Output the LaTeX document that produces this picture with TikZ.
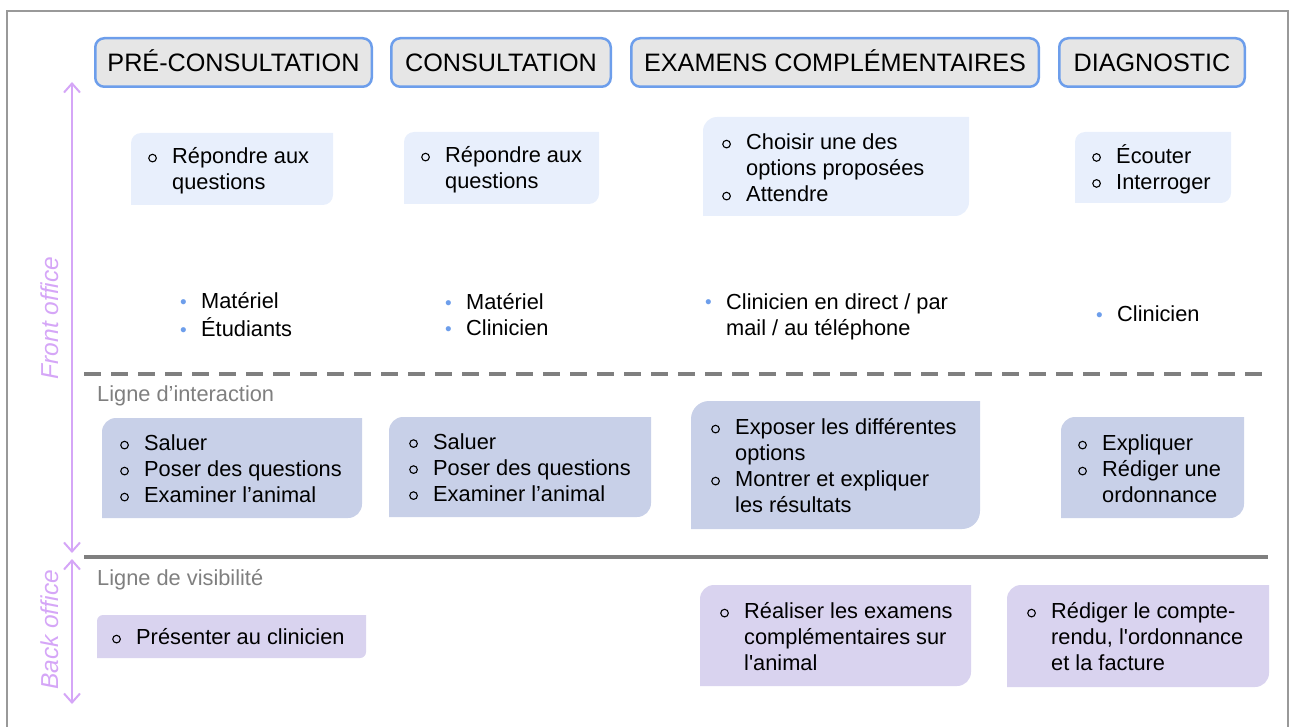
\documentclass[tikz,border=0pt]{standalone}
\usepackage{fontspec}
\setmainfont{Liberation Sans}[Ligatures=TeXOff]
\usetikzlibrary{arrows.meta}

\definecolor{headblue}{HTML}{6D9EEB}
\definecolor{headgray}{HTML}{E6E6E6}
\definecolor{askblue}{HTML}{E8EFFC}
\definecolor{actblue}{HTML}{C8D0E8}
\definecolor{backlav}{HTML}{D9D3EF}
\definecolor{officepurple}{HTML}{D5A6F7}
\definecolor{linegray}{HTML}{7F7F7F}
\definecolor{dotblue}{HTML}{6D9EEB}
\definecolor{framegray}{HTML}{999999}

\newcommand{\bodyfont}{\fontsize{21.8}{26}\selectfont}
\newcommand{\ring}{\tikz[baseline=0pt]\draw[line width=1.1pt] (4.3pt,5.6pt) circle[radius=3.8pt];}
\newcommand{\itm}{\strut\makebox[24pt][l]{\ring}}
\newcommand{\cnt}{\strut\hspace*{24pt}}
\newcommand{\rdot}{\strut\makebox[21pt][l]{\raisebox{0.5pt}{\fontsize{19}{19}\selectfont\textcolor{dotblue}{•}}}}
\newcommand{\rcnt}{\strut\hspace*{21pt}}
% box with top-left and bottom-right corners rounded: x1 y1 x2 y2 radius colour
\newcommand{\panel}[6]{\fill[#6] (#3,#2) [rounded corners=#5pt] -- (#3,#4) [sharp corners] -- (#1,#4) [rounded corners=#5pt] -- (#1,#2) [sharp corners] -- (#3,#2);}

\begin{document}
\begin{tikzpicture}[x=1pt,y=-1pt,
    header/.style={draw=headblue, line width=2.5pt, fill=headgray, rounded corners=9pt,
      minimum height=48.5pt, inner sep=0pt, text height=18pt, text depth=0pt,
      font=\fontsize{25.2}{30}\selectfont},
    item/.style={anchor=west, align=left, inner sep=0pt, yshift=-2.5pt, font=\bodyfont},
    linelabel/.style={anchor=west, inner sep=0pt, yshift=-2.5pt, text=linegray, font=\bodyfont},
    officelabel/.style={rotate=90, inner sep=0pt, text=officepurple,
      font=\fontsize{24.5}{29}\selectfont\itshape},
    officearrow/.style={draw=officepurple, line width=2pt,
      {Straight Barb[length=9pt,width=16pt]}-{Straight Barb[length=9pt,width=16pt]}}]
\useasboundingbox (0,0) rectangle (1295,727);
\draw[framegray, line width=1.5pt] (7,727) -- (7,11) -- (1288,11) -- (1288,727);

% phases
\node[header, minimum width=276.5pt] (pre) at (233.5,62.5) {PRÉ-CONSULTATION};
\node[header, minimum width=219.5pt] (consult) at (501,62.5) {CONSULTATION};
\node[header, minimum width=407.5pt] (exam) at (835,62.5) {EXAMENS COMPLÉMENTAIRES};
\node[header, minimum width=185.5pt] (diag) at (1152,62.5) {DIAGNOSTIC};

% client actions
\panel{131}{133}{333}{205}{10}{askblue}
\panel{404}{132}{599}{204}{10}{askblue}
\panel{703}{117}{969}{216}{14}{askblue}
\panel{1075}{132}{1231}{203}{10}{askblue}
\node[item] (preask) at (148,169) {\itm Répondre aux\\\cnt questions};
\node[item] (consultask) at (421,168) {\itm Répondre aux\\\cnt questions};
\node[item] (examask) at (722,168) {\itm Choisir une des\\\cnt options proposées\\\itm Attendre};
\node[item] (diagask) at (1092,168) {\itm Écouter\\\itm Interroger};

% supports
\node[item] (presup) at (180,315) {\rdot Matériel\\\rdot Étudiants};
\node[item] (consultsup) at (445,315) {\rdot Matériel\\\rdot Clinicien};
\node[item] (examsup) at (705,314.5) {\rdot Clinicien en direct / par\\\rcnt mail / au téléphone};
\node[item] (diagsup) at (1096,314) {\rdot Clinicien};

% line of interaction
\coordinate (ia) at (84,374);
\coordinate (ib) at (1268,374);
\draw[linegray, line width=4pt, dash pattern=on 17pt off 10pt] (ia) -- (ib);
\node[linelabel] (interaction) at (97,393) {Ligne d’interaction};

% front office actions
\panel{102}{418}{362}{518}{14}{actblue}
\panel{389}{417}{651}{517}{14}{actblue}
\panel{691}{401}{980}{529}{18}{actblue}
\panel{1061}{417}{1244}{518}{14}{actblue}
\node[item] (preact) at (120,469) {\itm Saluer\\\itm Poser des questions\\\itm Examiner l’animal};
\node[item] (consultact) at (409,467.5) {\itm Saluer\\\itm Poser des questions\\\itm Examiner l’animal};
\node[item] (examact) at (711,466) {\itm Exposer les différentes\\\cnt options\\\itm Montrer et expliquer\\\cnt les résultats};
\node[item] (diagact) at (1078,469) {\itm Expliquer\\\itm Rédiger une\\\cnt ordonnance};

% line of visibility
\coordinate (va) at (84,557);
\coordinate (vb) at (1268,557);
\draw[linegray, line width=4.5pt] (va) -- (vb);
\node[linelabel] (visibility) at (97,577) {Ligne de visibilité};

% back office actions
\panel{97}{615}{366}{658}{6}{backlav}
\panel{700}{585}{971}{686}{14}{backlav}
\panel{1007}{585}{1269}{687}{14}{backlav}
\node[item] (preback) at (112,637) {\itm Présenter au clinicien};
\node[item] (examback) at (720,637) {\itm Réaliser les examens\\\cnt complémentaires sur\\\cnt l'animal};
\node[item] (diagback) at (1027,637) {\itm Rédiger le compte-\\\cnt rendu, l'ordonnance\\\cnt et la facture};

% office zones
\node[officelabel] (front) at (50,318) {Front office};
\node[officelabel] (back) at (50,630) {Back office};
\coordinate (fotop) at (72,82);
\coordinate (fobot) at (72,553);
\coordinate (botop) at (72,559);
\coordinate (bobot) at (72,704);
\draw[officearrow] (fotop) -- (fobot);
\draw[officearrow] (botop) -- (bobot);
\end{tikzpicture}
\end{document}
